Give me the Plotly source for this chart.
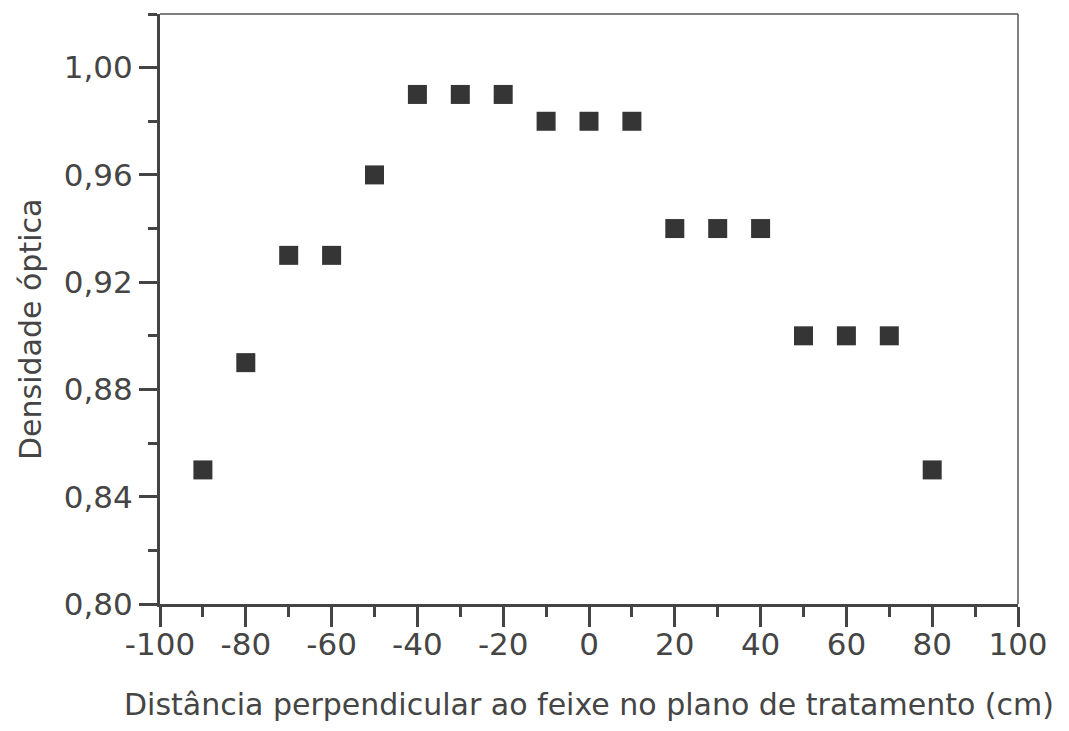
import plotly.graph_objects as go

distance_cm = [-90, -80, -70, -60, -50, -40, -30, -20, -10, 0, 10, 20, 30, 40, 50, 60, 70, 80]
optical_density = [0.85, 0.89, 0.93, 0.93, 0.96, 0.99, 0.99, 0.99, 0.98, 0.98, 0.98,
                   0.94, 0.94, 0.94, 0.90, 0.90, 0.90, 0.85]

x_tick_values = [-100, -80, -60, -40, -20, 0, 20, 40, 60, 80, 100]
x_tick_labels = ["-100", "-80", "-60", "-40", "-20", "0", "20", "40", "60", "80", "100"]

x_title = "Distância perpendicular ao feixe no plano de tratamento (cm)"
y_title = "Densidade óptica"

axis_color = "#444444"
font_family = "DejaVu Sans, sans-serif"

fig = go.Figure()
fig.add_trace(go.Scatter(
    x=distance_cm, y=optical_density, mode="markers",
    marker=dict(symbol="square", size=19, color="#353535", line=dict(width=0)),
    showlegend=False,
))

fig.update_layout(
    width=1069, height=731,
    margin=dict(l=160, r=51, t=14, b=127),
    paper_bgcolor="white", plot_bgcolor="white",
    separators=",.",
    font=dict(family=font_family, color="#454545", size=31),
    xaxis=dict(
        range=[-100, 100], tickvals=x_tick_values, ticktext=x_tick_labels,
        showgrid=False, zeroline=False,
        showline=True, linewidth=3, linecolor=axis_color,
        ticks="outside", ticklen=20, tickwidth=3, tickcolor=axis_color,
        ticklabelstandoff=-9,
        minor=dict(dtick=10, tick0=-100, ticks="outside", ticklen=10, tickwidth=3,
                   tickcolor=axis_color, showgrid=False),
        tickfont=dict(size=31),
    ),
    yaxis=dict(
        range=[0.80, 1.02], dtick=0.04, tick0=0.80, tickformat=".2f", showgrid=False, zeroline=False,
        showline=True, linewidth=3, linecolor=axis_color,
        ticks="outside", ticklen=18, tickwidth=3, tickcolor=axis_color,
        minor=dict(dtick=0.02, ticks="outside", ticklen=9, tickwidth=3,
                   tickcolor=axis_color, showgrid=False),
        tickfont=dict(size=31),
    ),
    annotations=[
        dict(text=x_title, xref="paper", yref="paper", x=0.5, y=-(704 - 604) / 590,
             xanchor="center", yanchor="middle", showarrow=False, font=dict(size=30)),
        dict(text=y_title, xref="paper", yref="paper", x=-(160 - 30) / 858, y=(604 - 330) / 590,
             xanchor="center", yanchor="middle", showarrow=False, textangle=-90, font=dict(size=30)),
    ],
    shapes=[
        dict(type="line", xref="paper", yref="paper", x0=0, x1=1, y0=1, y1=1,
             line=dict(color="#555555", width=1.5)),
        dict(type="line", xref="paper", yref="paper", x0=1, x1=1, y0=0, y1=1,
             line=dict(color="#555555", width=1.5)),
    ],
)

fig.write_html("out.html")
